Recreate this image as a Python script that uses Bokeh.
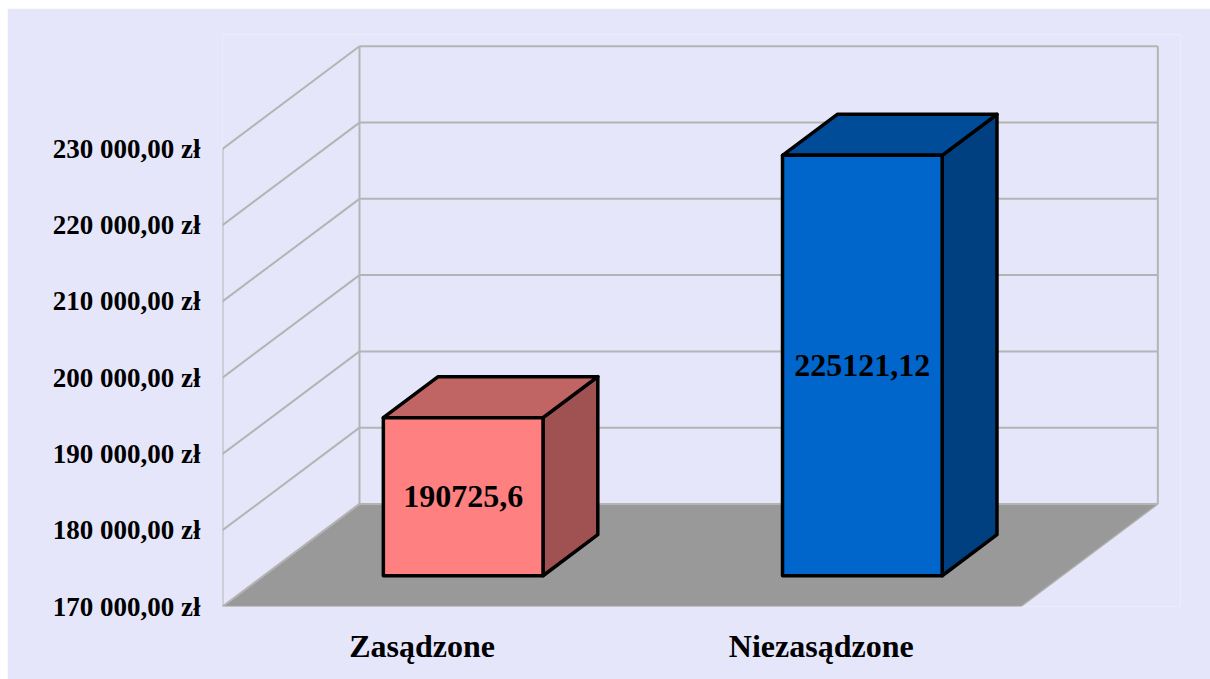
from bokeh.plotting import figure
from bokeh.models import Range1d, FixedTicker, LinearAxis
from bokeh.core.properties import value
from bokeh.embed import file_html
from bokeh.resources import INLINE

# ---- data ----
categories = ["Zasądzone", "Niezasądzone"]
amounts = [190725.6, 225121.12]
bar_labels = ["190725,6", "225121,12"]
y_ticks = [170000, 180000, 190000, 200000, 210000, 220000, 230000]
y_tick_labels = ["170 000,00 zł", "180 000,00 zł", "190 000,00 zł", "200 000,00 zł",
                 "210 000,00 zł", "220 000,00 zł", "230 000,00 zł"]

# ---- style / geometry ----
BG = "#E6E6FA"
GRID = "#B4B4B4"
FLOOR = "#999999"
FRONT = ["#FF8080", "#0066CC"]
TOP = ["#C06464", "#004C99"]
SIDE = ["#A05252", "#003F80"]
FONT = "Liberation Serif"
Y0 = y_ticks[0]
YMAX = 245000
X_END = 2.4
DX = 0.3432      # depth offset in x units (full depth)
DY = 13450.0     # depth offset in value units (full depth)
BAR_W = 0.4
D1, D2 = 0.3, 0.7  # bar depth span (fraction of full depth)

p = figure(width=1203, height=671, x_range=Range1d(0, X_END), y_range=Range1d(Y0, YMAX),
           output_backend="svg", toolbar_location=None,
           background_fill_color=BG, border_fill_color=BG, outline_line_color=None,
           min_border_left=215, min_border_right=30, min_border_top=26, min_border_bottom=73,
           x_axis_location=None, y_axis_location=None)
p.styles = {"margin-left": "7px", "margin-top": "8px"}
p.xgrid.visible = False
p.ygrid.visible = False

# axes
yax = LinearAxis(ticker=FixedTicker(ticks=y_ticks),
                 major_label_overrides={t: l for t, l in zip(y_ticks, y_tick_labels)})
yax.axis_line_color = None
yax.major_tick_line_color = None
yax.minor_tick_line_color = None
yax.major_label_standoff = 16
yax.major_label_text_font = FONT
yax.major_label_text_font_style = "bold"
yax.major_label_text_font_size = "27px"
yax.major_label_text_color = "black"
p.add_layout(yax, "left")

n = len(categories)
centers = [i + 0.5 for i in range(n)]
xax = LinearAxis(ticker=FixedTicker(ticks=centers),
                 major_label_overrides={c: l for c, l in zip(centers, categories)})
xax.axis_line_color = None
xax.major_tick_line_color = None
xax.minor_tick_line_color = None
xax.major_label_standoff = 15
xax.major_label_text_font = FONT
xax.major_label_text_font_style = "bold"
xax.major_label_text_font_size = "32px"
xax.major_label_text_color = "black"
p.add_layout(xax, "below")

# floor
p.patch([0, n, n + DX, DX], [Y0, Y0, Y0 + DY, Y0 + DY],
        fill_color=FLOOR, line_color="#ABABAB", line_width=1.5)

# walls: left wall diagonals and back wall horizontals
top_v = y_ticks[-1]
p.segment(x0=[0] * len(y_ticks), y0=y_ticks, x1=[DX] * len(y_ticks), y1=[v + DY for v in y_ticks],
          line_color=GRID, line_width=2)
p.segment(x0=[DX] * len(y_ticks), y0=[v + DY for v in y_ticks], x1=[n + DX] * len(y_ticks),
          y1=[v + DY for v in y_ticks], line_color=GRID, line_width=2)
p.segment(x0=[0, DX, n + DX], y0=[Y0, Y0 + DY, Y0 + DY], x1=[0, DX, n + DX],
          y1=[top_v, top_v + DY, top_v + DY], line_color=GRID, line_width=2)

# bars
dd = D2 - D1
for i, (c, v) in enumerate(zip(centers, amounts)):
    L = c - BAR_W / 2 + D1 * DX
    R = c + BAR_W / 2 + D1 * DX
    B = Y0 + D1 * DY
    T = v + D1 * DY
    ox, oy = dd * DX, dd * DY
    kw = dict(line_color="black", line_width=3.5, line_join="round")
    p.patch([R, R, R + ox, R + ox], [B, T, T + oy, B + oy], fill_color=SIDE[i], **kw)
    p.patch([L, R, R + ox, L + ox], [T, T, T + oy, T + oy], fill_color=TOP[i], **kw)
    p.patch([L, R, R, L], [B, B, T, T], fill_color=FRONT[i], **kw)
    p.text(x=[(L + R) / 2], y=[(B + T) / 2], text=[bar_labels[i]],
           text_font=value(FONT), text_font_style="bold", text_font_size="32px",
           text_align="center", text_baseline="middle", text_color="black")

open("out.html", "w").write(file_html(p, INLINE))
